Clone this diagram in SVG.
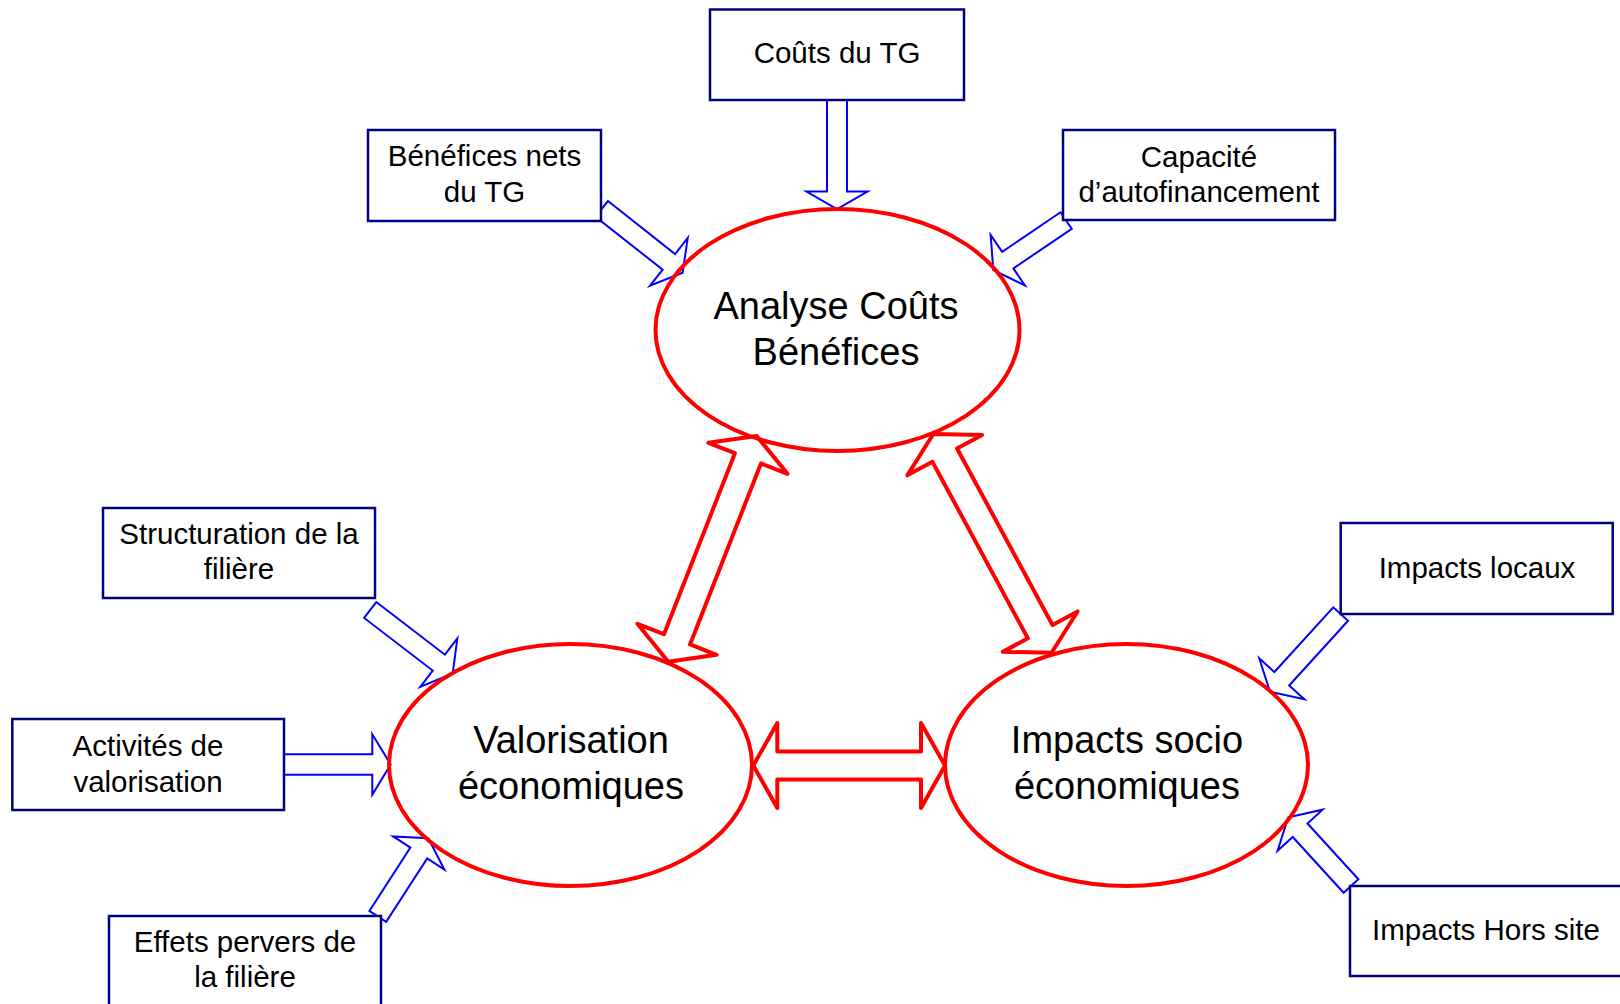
<svg xmlns="http://www.w3.org/2000/svg" width="1620" height="1004" viewBox="0 0 1620 1004">
<style>
.box{fill:#fff;stroke:#000080;stroke-width:2.5}
.bt{font-family:"Liberation Sans",Arial,sans-serif;font-size:29.5px;fill:#000;text-anchor:middle}
.et{font-family:"Liberation Sans",Arial,sans-serif;font-size:38px;fill:#000;text-anchor:middle}
.ell{fill:none;stroke:#ff0000;stroke-width:4}
.ba{fill:#fff;stroke:#0000ff;stroke-width:2;stroke-linejoin:miter}
.ra{fill:#fff;stroke:#ff0000;stroke-width:4;stroke-linejoin:round}
</style>
<rect width="1620" height="1004" fill="#fff"/>
<g id="connectors">
  <polygon class="ba" transform="translate(837,209) rotate(90)" points="-109,-10 -17.5,-10 -17.5,-30.5 0,0 -17.5,30.5 -17.5,10 -109,10"/>
  <polygon class="ba" transform="translate(682.6,272.7) rotate(38.3)" points="-103,-10 -17.5,-10 -17.5,-30.5 0,0 -17.5,30.5 -17.5,10 -103,10"/>
  <polygon class="ba" transform="translate(993.3,270) rotate(145.8)" points="-88,-10 -17.5,-10 -17.5,-30.5 0,0 -17.5,30.5 -17.5,10 -88,10"/>
  <polygon class="ba" transform="translate(452.7,673.3) rotate(37.5)" points="-104,-10 -17.5,-10 -17.5,-30.5 0,0 -17.5,30.5 -17.5,10 -104,10"/>
  <polygon class="ba" transform="translate(390.7,764.5) rotate(0)" points="-106.7,-10.3 -18.4,-10.3 -18.4,-30.3 0,0 -18.4,30.3 -18.4,10.3 -106.7,10.3"/>
  <polygon class="ba" transform="translate(428.3,838.3) rotate(-57.1)" points="-93,-10 -17.5,-10 -17.5,-30.5 0,0 -17.5,30.5 -17.5,10 -93,10"/>
  <polygon class="ba" transform="translate(1270,691.7) rotate(132.3)" points="-105,-10 -17.5,-10 -17.5,-30.5 0,0 -17.5,30.5 -17.5,10 -105,10"/>
  <polygon class="ba" transform="translate(1288.3,817.3) rotate(-132.4)" points="-93,-10 -17.5,-10 -17.5,-30.5 0,0 -17.5,30.5 -17.5,10 -93,10"/>
  <path class="ra" transform="translate(753.3,765.5)" d="M0,0 L24,-42.5 L24,-14 L167.7,-14 L167.7,-42.5 L191.7,0 L167.7,42.5 L167.7,14 L24,14 L24,42.5 Z"/>
  <path class="ra" transform="translate(756.7,436) rotate(111.4)" d="M0,0 L24,-42.5 L24,-14 L218.4,-14 L218.4,-42.5 L242.4,0 L218.4,42.5 L218.4,14 L24,14 L24,42.5 Z"/>
  <path class="ra" transform="translate(933.3,434) rotate(61.6)" d="M0,0 L24,-42.5 L24,-14 L224.7,-14 L224.7,-42.5 L248.7,0 L224.7,42.5 L224.7,14 L24,14 L24,42.5 Z"/>
</g>
<g id="acb">
  <ellipse class="ell" cx="837.5" cy="330" rx="182" ry="121"/>
  <text class="et" x="836" y="318.5">Analyse Coûts</text>
  <text class="et" x="836" y="364.5">Bénéfices</text>
</g>
<g id="valorisation">
  <ellipse class="ell" cx="570.5" cy="765" rx="181.5" ry="121"/>
  <text class="et" x="571" y="753">Valorisation</text>
  <text class="et" x="571" y="798.5">économiques</text>
</g>
<g id="impacts">
  <ellipse class="ell" cx="1126.5" cy="765" rx="181.5" ry="121"/>
  <text class="et" x="1127" y="753">Impacts socio</text>
  <text class="et" x="1127" y="798.5">économiques</text>
</g>
<g id="couts">
  <rect class="box" x="710" y="9.5" width="254" height="90.5"/>
  <text class="bt" x="837" y="63">Coûts du TG</text>
</g>
<g id="benefices">
  <rect class="box" x="368" y="130" width="233" height="91"/>
  <text class="bt" x="484.5" y="165.7">Bénéfices nets</text>
  <text class="bt" x="484.5" y="201.7">du TG</text>
</g>
<g id="capacite">
  <rect class="box" x="1063" y="130" width="272" height="90"/>
  <text class="bt" x="1199" y="166.7">Capacité</text>
  <text class="bt" x="1199" y="201.7">d’autofinancement</text>
</g>
<g id="structuration">
  <rect class="box" x="103" y="508" width="272" height="90"/>
  <text class="bt" x="239" y="544">Structuration de la</text>
  <text class="bt" x="239" y="579">filière</text>
</g>
<g id="activites">
  <rect class="box" x="12.3" y="719" width="271.7" height="91"/>
  <text class="bt" x="148" y="755.7">Activités de</text>
  <text class="bt" x="148" y="791.7">valorisation</text>
</g>
<g id="effets">
  <rect class="box" x="109" y="916" width="272" height="95"/>
  <text class="bt" x="245" y="951.7">Effets pervers de</text>
  <text class="bt" x="245" y="986.7">la filière</text>
</g>
<g id="locaux">
  <rect class="box" x="1340.7" y="523" width="272" height="91"/>
  <text class="bt" x="1477" y="578">Impacts locaux</text>
</g>
<g id="horssite">
  <rect class="box" x="1350" y="886" width="275" height="90"/>
  <text class="bt" x="1486" y="940">Impacts Hors site</text>
</g>
</svg>
